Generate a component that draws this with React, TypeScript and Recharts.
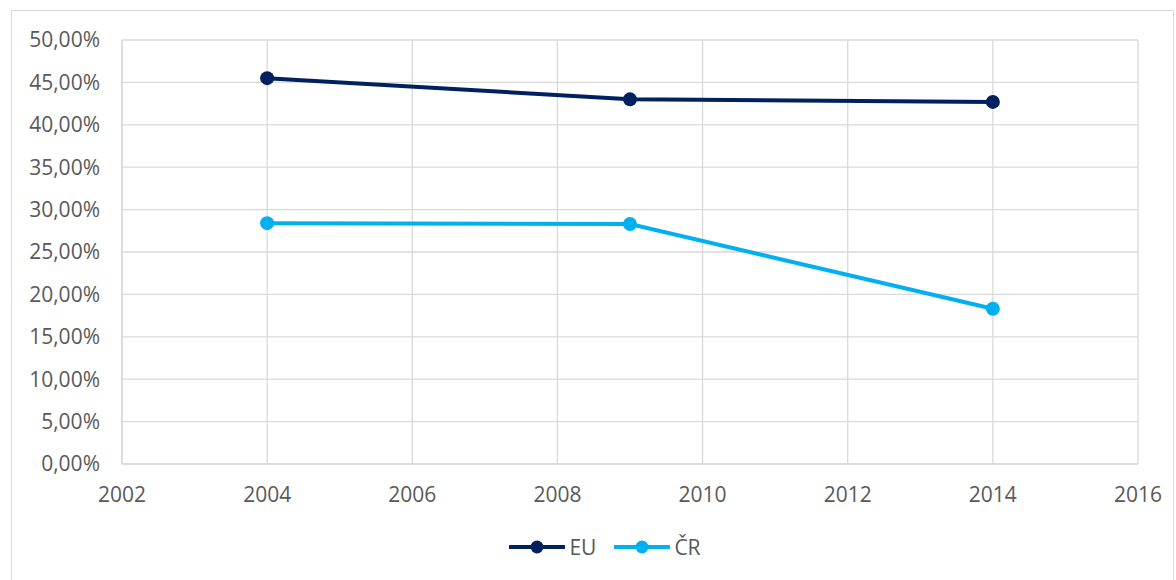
import React from "react";
import { LineChart, Line, XAxis, YAxis, CartesianGrid, Legend } from "recharts";

const years = [2004, 2009, 2014];
const euValues = [0.455, 0.43, 0.427];
const crValues = [0.284, 0.283, 0.183];
const xTicks = [2002, 2004, 2006, 2008, 2010, 2012, 2014, 2016];
const yTicks = [0, 0.05, 0.1, 0.15, 0.2, 0.25, 0.3, 0.35, 0.4, 0.45, 0.5];

const data = years.map((year, i) => ({ year, eu: euValues[i], cr: crValues[i] }));

const series = [
  { key: "eu", name: "EU", color: "#002060" },
  { key: "cr", name: "ČR", color: "#00B0F0" },
];

const font = "'Open Sans', sans-serif";
const textColor = "#595959";
const gridColor = "#D9D9D9";

const formatPercent = (v: number) => (v * 100).toFixed(2).replace(".", ",") + "%";

function LegendContent() {
  return (
    <div style={{ display: "flex", justifyContent: "center", paddingTop: 32, paddingLeft: 90, fontFamily: font }}>
      {series.map((s) => (
        <div key={s.key} style={{ display: "flex", alignItems: "center", marginRight: 18 }}>
          <svg width={56} height={16}>
            <line x1={1} y1={8} x2={55} y2={8} stroke={s.color} strokeWidth={3.8} strokeLinecap="round" />
            <circle cx={28} cy={8} r={6.5} fill={s.color} />
          </svg>
          <span style={{ fontSize: 21, color: textColor, marginLeft: 4, lineHeight: "22px" }}>{s.name}</span>
        </div>
      ))}
    </div>
  );
}

export default function App() {
  return (
    <div style={{ position: "absolute", left: 0, top: 0, width: 1176, height: 580, background: "#fff", overflow: "hidden" }}>
      <div
        style={{
          position: "absolute",
          left: 11,
          top: 10,
          width: 1163,
          height: 600,
          border: `1px solid ${gridColor}`,
          boxSizing: "border-box",
        }}
      />
      <LineChart width={1176} height={580} data={data} margin={{ top: 40, right: 38, bottom: 0, left: 0 }}>
        <CartesianGrid stroke={gridColor} strokeWidth={1.3} />
        <XAxis
          dataKey="year"
          type="number"
          domain={[2002, 2016]}
          ticks={xTicks}
          height={40}
          tickSize={0}
          tickMargin={23}
          axisLine={{ stroke: gridColor, strokeWidth: 1.3 }}
          tick={{ fill: textColor, fontSize: 21, fontFamily: font }}
        />
        <YAxis
          type="number"
          domain={[0, 0.5]}
          ticks={yTicks}
          width={122}
          tickSize={0}
          tickMargin={22}
          tickFormatter={formatPercent}
          axisLine={{ stroke: gridColor, strokeWidth: 1.3 }}
          tick={{ fill: textColor, fontSize: 21, fontFamily: font }}
        />
        <Legend verticalAlign="bottom" wrapperStyle={{ height: 76 }} content={() => <LegendContent />} />
        {series.map((s) => (
          <Line
            key={s.key}
            dataKey={s.key}
            name={s.name}
            stroke={s.color}
            strokeWidth={4}
            dot={{ r: 7, fill: s.color, stroke: s.color, strokeWidth: 0 }}
            activeDot={false}
            isAnimationActive={false}
          />
        ))}
      </LineChart>
    </div>
  );
}
